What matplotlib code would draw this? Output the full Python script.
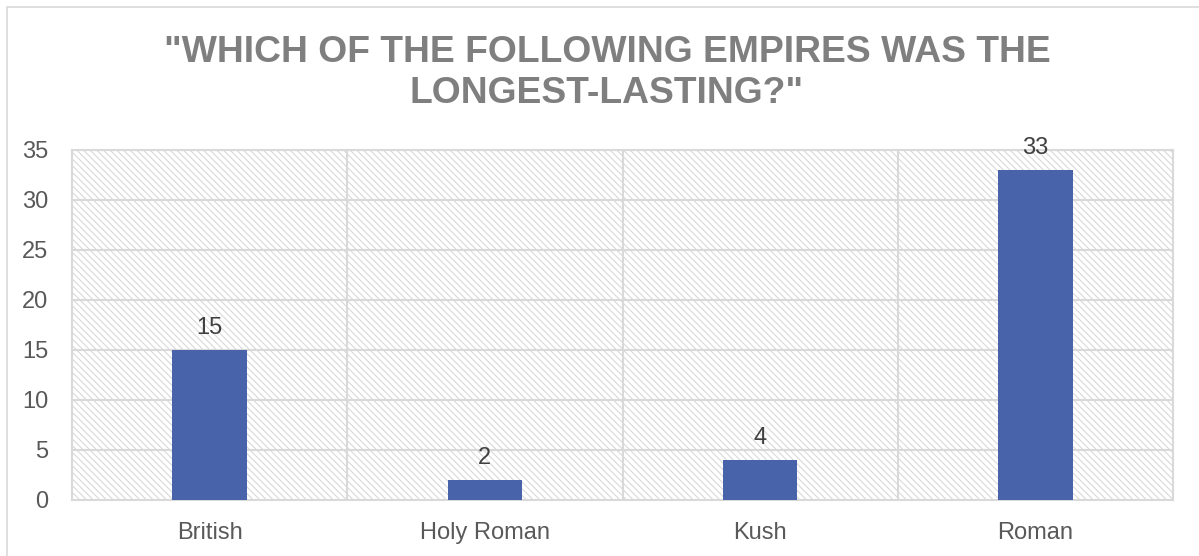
import matplotlib.pyplot as plt
import matplotlib as mpl
from matplotlib.patches import Rectangle

plt.rcParams['font.family'] = ['Liberation Sans', 'DejaVu Sans']
mpl.rcParams['hatch.color'] = '#d9d9d9'
mpl.rcParams['hatch.linewidth'] = 0.8

TITLE = '"WHICH OF THE FOLLOWING EMPIRES WAS THE\nLONGEST-LASTING?"'
categories = ['British', 'Holy Roman', 'Kush', 'Roman']
votes = [15, 2, 4, 33]
y_ticks = [0, 5, 10, 15, 20, 25, 30, 35]

fig = plt.figure(figsize=(11.99, 5.56), dpi=100)

# outer chart border
fig.patches.append(Rectangle((7 / 1199, -0.05), 1.2, 1 - 7 / 556 + 0.05,
                             transform=fig.transFigure, fill=False,
                             edgecolor='#d9d9d9', linewidth=1.2))

ax = fig.add_axes([72 / 1199, 56 / 556, 1101 / 1199, 350 / 556])

# hatched plot area background
ax.add_patch(Rectangle((0, 0), 1, 1, transform=ax.transAxes, facecolor='white',
                       hatch='\\\\\\\\\\', edgecolor='#d9d9d9', linewidth=0, zorder=0))

x = list(range(len(categories)))
bars = ax.bar(x, votes, width=0.27, color='#4863aa', zorder=3)
for xi, v in zip(x, votes):
    ax.text(xi, v + 1.1, str(v), ha='center', va='bottom', fontsize=17, color='#404040', zorder=4)

ax.set_xlim(-0.5, len(categories) - 0.5)
ax.set_ylim(0, 35)
ax.set_yticks(y_ticks)
ax.set_xticks(x)
ax.set_xticklabels(categories)
ax.tick_params(axis='both', length=0, labelsize=17, labelcolor='#595959')
ax.tick_params(axis='y', pad=17)
ax.tick_params(axis='x', pad=16)

for yt in y_ticks[1:]:
    ax.axhline(yt, color='#d9d9d9', linewidth=1.5, zorder=1)
for xb in [0.5, 1.5, 2.5]:
    ax.axvline(xb, color='#d9d9d9', linewidth=1.5, zorder=1)

for side in ['top', 'right', 'left', 'bottom']:
    ax.spines[side].set_color('#d9d9d9')
    ax.spines[side].set_linewidth(1.5)

fig.text(607 / 1199, 1 - 73 / 556, TITLE, ha='center', va='center', fontsize=26.8,
         fontweight='bold', color='#7f7f7f', linespacing=1.25)

fig.savefig('out.png', dpi=100)
